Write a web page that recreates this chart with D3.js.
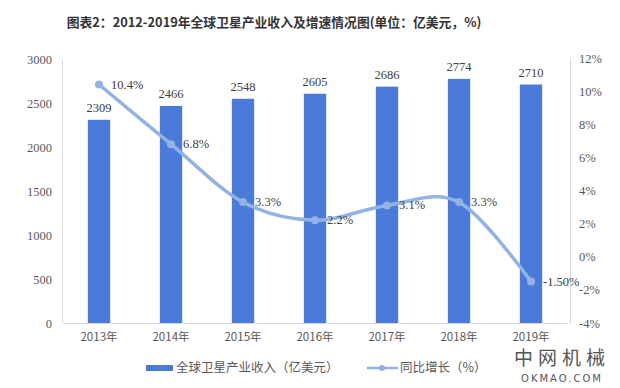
<!DOCTYPE html>
<html><head><meta charset="utf-8">
<script src="https://cdn.jsdelivr.net/npm/d3@7"></script>
<style>body{margin:0;background:#fff}svg{display:block}</style>
</head><body><svg id="c" width="620" height="388"></svg>
<script>
const categories = ["2013年","2014年","2015年","2016年","2017年","2018年","2019年"];
const revenue = [2309, 2466, 2548, 2605, 2686, 2774, 2710];
const growth = [10.4, 6.8, 3.3, 2.2, 3.1, 3.3, -1.5];
const growthLabels = ["10.4%","6.8%","3.3%","2.2%","3.1%","3.3%","-1.50%"];
const leftTicks = [0,500,1000,1500,2000,2500,3000];
const rightTicks = [-4,-2,0,2,4,6,8,10,12];
const title = "图表2：2012-2019年全球卫星产业收入及增速情况图(单位：亿美元，%)";
const legendBar = "全球卫星产业收入（亿美元）";
const legendLine = "同比增长（%）";

const svg = d3.select("#c");
const serif = "'Liberation Serif','Times New Roman',serif";
const cjk = "'Noto Sans CJK SC','Liberation Serif',sans-serif";
const barColor = "#4a7bdb", lineColor = "#92b2e6", txt = "#595959";

const x = d3.scaleBand().domain(categories).range([63, 567]).paddingInner(0.69).paddingOuter(0.345);
const yL = d3.scaleLinear().domain([0, 3000]).range([323, 59]);
const yR = d3.scaleLinear().domain([-4, 12]).range([323, 58]);

svg.append("text").attr("x", 274).attr("y", 27).attr("text-anchor", "middle")
  .attr("font-family", cjk).attr("font-weight", "bold").attr("font-size", 12.8).attr("fill", "#333")
  .text(title);

// axes
const axL = svg.append("g").attr("transform", "translate(62,0)")
  .call(d3.axisLeft(yL).tickValues(leftTicks).tickSize(0).tickPadding(10).tickFormat(d3.format("d")));
const axR = svg.append("g").attr("transform", "translate(570,0)")
  .call(d3.axisRight(yR).tickValues(rightTicks).tickSize(0).tickPadding(9).tickFormat(d => d + "%"));
const axB = svg.append("g").attr("transform", "translate(0,323)")
  .call(d3.axisBottom(x).tickSize(0).tickPadding(10));
[axL, axR, axB].forEach(a => {
  a.attr("font-family", serif).attr("font-size", 12.5);
  a.select(".domain").attr("stroke", "#d9d9d9");
  a.selectAll("text").attr("font-family", serif).attr("font-size", 12.5).attr("fill", txt);
});
axB.selectAll("text").attr("font-family", cjk).attr("font-size", 11.5);

// bars
svg.append("g").selectAll("rect").data(revenue).join("rect")
  .attr("x", (d, i) => x(categories[i])).attr("width", x.bandwidth())
  .attr("y", d => yL(d)).attr("height", d => yL(0) - yL(d)).attr("fill", barColor);
svg.append("g").selectAll("text").data(revenue).join("text")
  .attr("x", (d, i) => x(categories[i]) + x.bandwidth() / 2).attr("y", d => yL(d) - 8)
  .attr("text-anchor", "middle").attr("font-family", serif).attr("font-size", 12.5).attr("fill", "#404040")
  .text(d => d);

// line
const cx = (i) => x(categories[i]) + x.bandwidth() / 2;
const line = d3.line().x((d, i) => cx(i)).y(d => yR(d)).curve(d3.curveCardinal.tension(0));
svg.append("path").datum(growth).attr("d", line).attr("fill", "none")
  .attr("stroke", lineColor).attr("stroke-width", 3.5).attr("stroke-linecap", "round");
svg.append("g").selectAll("circle").data(growth).join("circle")
  .attr("cx", (d, i) => cx(i)).attr("cy", d => yR(d)).attr("r", 4).attr("fill", lineColor);
svg.append("g").selectAll("text").data(growth).join("text")
  .attr("x", (d, i) => cx(i) + 12).attr("y", d => yR(d) + 4)
  .attr("font-family", serif).attr("font-size", 12.5).attr("fill", "#404040")
  .text((d, i) => growthLabels[i]);

// legend
const lg = svg.append("g");
lg.append("rect").attr("x", 146).attr("y", 365).attr("width", 27).attr("height", 6).attr("fill", barColor);
lg.append("text").attr("x", 176).attr("y", 372).attr("font-family", cjk).attr("font-size", 12.5).attr("fill", txt).text(legendBar);
lg.append("line").attr("x1", 367).attr("x2", 398).attr("y1", 368).attr("y2", 368).attr("stroke", lineColor).attr("stroke-width", 2.5);
lg.append("circle").attr("cx", 382).attr("cy", 368).attr("r", 3).attr("fill", lineColor);
lg.append("text").attr("x", 400).attr("y", 372).attr("font-family", cjk).attr("font-size", 12.5).attr("fill", txt).text(legendLine);

// watermark
svg.append("text").attr("x", 562).attr("y", 365).attr("text-anchor", "middle")
  .attr("font-family", cjk).attr("font-size", 19).attr("letter-spacing", 5).attr("fill", "#555").text("中网机械");
svg.append("text").attr("x", 562).attr("y", 382).attr("text-anchor", "middle")
  .attr("font-family", "'DejaVu Sans',sans-serif").attr("font-size", 10).attr("letter-spacing", 2).attr("fill", "#555").text("OKMAO.COM");
</script></body></html>
